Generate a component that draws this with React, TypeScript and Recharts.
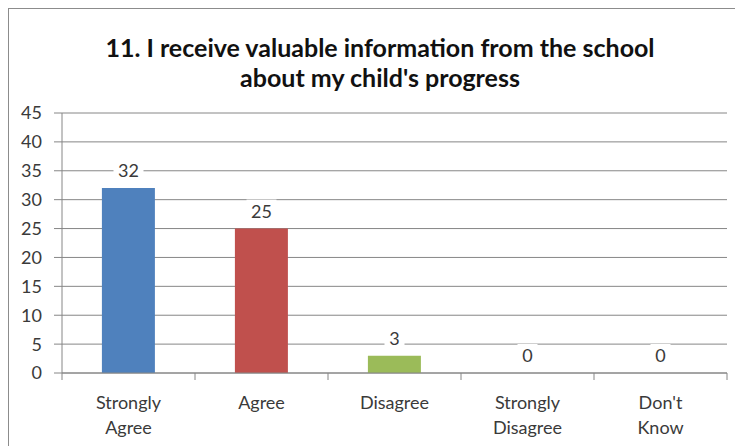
import React from "react";
import { ComposedChart, Bar, Line, XAxis, YAxis, CartesianGrid, Cell } from "recharts";

const categories = ["Strongly Agree", "Agree", "Disagree", "Strongly Disagree", "Don't Know"];
const responses = [32, 25, 3, 0, 0];
const barColors = ["#4F81BD", "#C0504D", "#9BBB59", "#8064A2", "#4BACC6"];
const yTicks = [0, 5, 10, 15, 20, 25, 30, 35, 40, 45];

const data = categories.map((name, i) => ({ name, value: responses[i] }));

const W = 734;
const H = 437;
const margin = { top: 104, right: 16, left: 0, bottom: 0 };
const yAxisWidth = 53;
const band = (W - margin.left - margin.right - yAxisWidth) / categories.length;

const FONT = "Lato, 'Open Sans', sans-serif";
const TEXT = "#3a3a3a";
const AXIS = "#868686";
const FS = 18;

function CategoryTick(props: any) {
  const { x, y, payload, index } = props;
  const lines = String(payload.value).split(" ");
  const left = x - band / 2;
  return (
    <g>
      <line x1={left} y1={y} x2={left} y2={y + 7} stroke={AXIS} />
      {index === categories.length - 1 && (
        <line x1={x + band / 2} y1={y} x2={x + band / 2} y2={y + 7} stroke={AXIS} />
      )}
      {lines.map((l, i) => (
        <text key={i} x={x} y={y + 36 + i * 25} textAnchor="middle" fill={TEXT} fontSize={FS} fontFamily={FONT}>
          {l}
        </text>
      ))}
    </g>
  );
}

function ValueLabel(props: any) {
  const { x, y, value } = props;
  const cy = y - 17;
  const w = String(value).length * 10 + 10;
  return (
    <g>
      <rect x={x - w / 2} y={cy - 12} width={w} height={24} fill="#fff" />
      <text x={x} y={cy + 6} textAnchor="middle" fill={TEXT} fontSize={FS} fontFamily={FONT}>
        {value}
      </text>
    </g>
  );
}

export default function App() {
  return (
    <div
      style={{
        position: "relative",
        width: W,
        height: H,
        borderLeft: "1px solid #8c8c8c",
        borderTop: "1px solid #8c8c8c",
        background: "#fff",
      }}
    >
      <div
        style={{
          position: "absolute",
          left: 0,
          top: 23,
          width: 742,
          textAlign: "center",
          fontFamily: FONT,
          fontWeight: 700,
          fontSize: 25,
          lineHeight: "30px",
          color: "#111",
        }}
      >
        11. I receive valuable information from the school
        <br />
        about my child's progress
      </div>
      <ComposedChart width={W} height={H} data={data} margin={margin} barCategoryGap="30%">
        <CartesianGrid vertical={false} stroke={AXIS} />
        <XAxis
          dataKey="name"
          height={73}
          tickLine={false}
          tickSize={0}
          tickMargin={0}
          axisLine={{ stroke: AXIS }}
          tick={<CategoryTick />}
          interval={0}
        />
        <YAxis
          width={yAxisWidth}
          domain={[0, 45]}
          ticks={yTicks}
          interval={0}
          tickSize={8}
          tickMargin={12}
          tickLine={{ stroke: AXIS }}
          axisLine={{ stroke: AXIS }}
          tick={{ fill: TEXT, fontSize: FS, fontFamily: FONT }}
        />
        <Bar dataKey="value" isAnimationActive={false}>
          {data.map((d, i) => (
            <Cell key={d.name} fill={barColors[i]} />
          ))}
        </Bar>
        <Line
          dataKey="value"
          stroke="none"
          dot={false}
          activeDot={false}
          isAnimationActive={false}
          label={<ValueLabel />}
        />
      </ComposedChart>
    </div>
  );
}
